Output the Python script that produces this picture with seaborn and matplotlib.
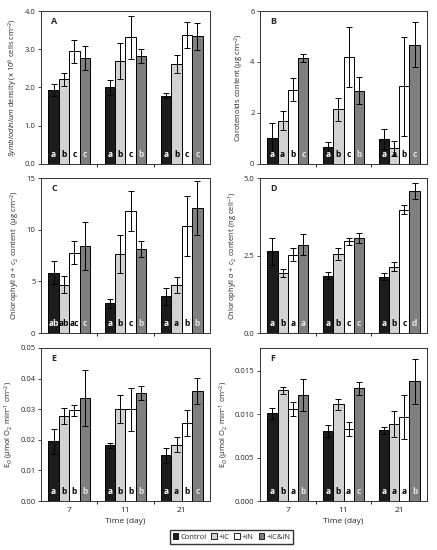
import numpy as np
import pandas as pd
import matplotlib
matplotlib.use("Agg")
import matplotlib.pyplot as plt
import matplotlib.transforms as mtransforms
from matplotlib.patches import Patch
import seaborn as sns

days = ["7", "11", "21"]
treatments = ["Control", "+iC", "+iN", "+iC&iN"]
colors = ["#1c1c1c", "#d2d2d2", "#ffffff", "#7f7f7f"]
letter_colors = ["white", "black", "black", "#e6e6e6"]

# values per treatment, one entry per day (7, 11, 21)
sym_mean = {"Control": [1.93, 2.00, 1.79], "+iC": [2.21, 2.69, 2.61],
            "+iN": [2.95, 3.31, 3.37], "+iC&iN": [2.77, 2.82, 3.34]}
sym_err = {"Control": [0.15, 0.20, 0.07], "+iC": [0.17, 0.48, 0.23],
           "+iN": [0.30, 0.56, 0.33], "+iC&iN": [0.31, 0.18, 0.35]}
sym_let = [["a", "b", "c", "c"], ["a", "b", "c", "b"], ["a", "b", "c", "c"]]

car_mean = {"Control": [1.03, 0.68, 0.98], "+iC": [1.70, 2.14, 0.61],
            "+iN": [2.92, 4.20, 3.04], "+iC&iN": [4.17, 2.88, 4.68]}
car_err = {"Control": [0.56, 0.20, 0.40], "+iC": [0.38, 0.44, 0.28],
           "+iN": [0.44, 1.17, 1.94], "+iC&iN": [0.16, 0.54, 0.89]}
car_let = [["a", "a", "b", "c"], ["a", "b", "c", "b"], ["a", "a", "b", "c"]]

chl_mean = {"Control": [5.84, 2.86, 3.54], "+iC": [4.68, 7.66, 4.64],
            "+iN": [7.79, 11.79, 10.39], "+iC&iN": [8.41, 8.12, 12.10]}
chl_err = {"Control": [1.14, 0.45, 0.84], "+iC": [0.84, 1.82, 0.78],
           "+iN": [1.10, 1.91, 2.90], "+iC&iN": [2.30, 0.74, 2.58]}
chl_let = [["ab", "ab", "ac", "c"], ["a", "b", "c", "b"], ["a", "a", "b", "b"]]

chc_mean = {"Control": [2.63, 1.85, 1.82], "+iC": [1.93, 2.55, 2.14],
            "+iN": [2.53, 2.96, 3.98], "+iC&iN": [2.85, 3.07, 4.59]}
chc_err = {"Control": [0.43, 0.11, 0.10], "+iC": [0.13, 0.18, 0.14],
           "+iN": [0.20, 0.11, 0.15], "+iC&iN": [0.34, 0.17, 0.26]}
chc_let = [["a", "b", "a", "a"], ["a", "b", "c", "c"], ["a", "b", "c", "d"]]

eo_mean = {"Control": [0.0195, 0.0182, 0.0149], "+iC": [0.0278, 0.0302, 0.0184],
           "+iN": [0.0296, 0.0300, 0.0255], "+iC&iN": [0.0336, 0.0354, 0.0360]}
eo_err = {"Control": [0.0040, 0.0008, 0.0024], "+iC": [0.0027, 0.0046, 0.0024],
          "+iN": [0.0018, 0.0070, 0.0043], "+iC&iN": [0.0092, 0.0023, 0.0042]}
eo_let = [["a", "b", "b", "b"], ["a", "b", "b", "b"], ["a", "a", "b", "c"]]

eo2_mean = {"Control": [0.01009, 0.00804, 0.00812], "+iC": [0.01276, 0.01113, 0.00881],
            "+iN": [0.01063, 0.00831, 0.00966], "+iC&iN": [0.01218, 0.01295, 0.01376]}
eo2_err = {"Control": [0.0006, 0.0007, 0.0004], "+iC": [0.0004, 0.00066, 0.0015],
           "+iN": [0.0008, 0.0008, 0.0025], "+iC&iN": [0.0018, 0.0007, 0.0026]}
eo2_let = [["a", "b", "a", "b"], ["a", "b", "a", "c"], ["a", "a", "a", "b"]]

sns.set_style("ticks")
plt.rcParams["font.family"] = ["Open Sans", "DejaVu Sans"]
plt.rcParams["mathtext.fontset"] = "custom"
plt.rcParams["mathtext.rm"] = "Open Sans"
plt.rcParams["mathtext.it"] = "Open Sans:italic"
plt.rcParams["mathtext.bf"] = "Open Sans:bold"

fig = plt.figure(figsize=(4.37, 5.5), dpi=100)
W, H = 437.0, 550.0


def make_ax(l, r, t, b):
    return fig.add_axes([l / W, 1 - b / H, (r - l) / W, (b - t) / H])


panels = [
    (make_ax(41, 210, 11, 164), sym_mean, sym_err, sym_let, "A", (0, 4), [0, 1, 2, 3, 4], "{:.1f}",
     r"$\it{Symbiodinium}$ density (x 10$^6$ cells cm$^{-2}$)"),
    (make_ax(260, 427, 11, 164), car_mean, car_err, car_let, "B", (0, 6), [0, 2, 4, 6], "{:.0f}",
     r"Carotenoids content (μg cm$^{-2}$)"),
    (make_ax(41, 210, 178, 333), chl_mean, chl_err, chl_let, "C", (0, 15), [0, 5, 10, 15], "{:.0f}",
     r"Chlorophyll $\it{a}$ + $\it{c}_2$ content  (μg cm$^{-2}$)"),
    (make_ax(260, 427, 178, 333), chc_mean, chc_err, chc_let, "D", (0, 5), [0, 2.5, 5], "{:.1f}",
     r"Chlorophyll $\it{a}$ + $\it{c}_2$ content (ng cell$^{-1}$)"),
    (make_ax(41, 210, 348, 501), eo_mean, eo_err, eo_let, "E", (0, 0.05),
     [0, 0.01, 0.02, 0.03, 0.04, 0.05], "{:.2f}",
     r"E$_O$ (μmol O$_2$ min$^{-1}$ cm$^{-2}$)"),
    (make_ax(260, 427, 348, 501), eo2_mean, eo2_err, eo2_let, "F", (0, 0.0176),
     [0, 0.005, 0.010, 0.015], "{:.3f}",
     r"E$_O$ (μmol O$_2$ min$^{-1}$ cm$^{-2}$)"),
]

for idx, (ax, means, errs, lets, tag, ylim, yticks, fmt, ylabel) in enumerate(panels):
    rows = []
    for t in treatments:
        for d, m, e in zip(days, means[t], errs[t]):
            rows.append({"Day": d, "Treatment": t, "value": m, "err": e})
    df = pd.DataFrame(rows)
    sns.barplot(data=df, x="Day", y="value", hue="Treatment", order=days,
                hue_order=treatments, palette=colors, edgecolor="black",
                linewidth=0.7, width=0.74, errorbar=None, legend=False,
                saturation=1, ax=ax)
    trans = mtransforms.blended_transform_factory(ax.transData, ax.transAxes)
    bar_groups = list(ax.containers)
    for i, cont in enumerate(bar_groups):
        t = treatments[i]
        for j, bar in enumerate(cont):
            xc = bar.get_x() + bar.get_width() / 2
            ax.errorbar(xc, means[t][j], yerr=errs[t][j], fmt="none", ecolor="black",
                        elinewidth=0.7, capsize=2, capthick=0.7, zorder=5)
            ax.text(xc, 0.03, lets[j][i], transform=trans, ha="center", va="bottom",
                    fontsize=6, fontweight="bold", color=letter_colors[i], zorder=6)
    ax.set_ylim(*ylim)
    ax.set_yticks(yticks)
    ax.set_yticklabels([fmt.format(v) for v in yticks])
    ax.set_xlim(-0.5, 2.5)
    ax.set_xticks([0, 1, 2])
    ax.set_xticks([0.5, 1.5], minor=True)
    ax.tick_params(axis="x", which="major", length=0, labelsize=6, pad=4)
    ax.tick_params(axis="x", which="minor", length=2, width=0.7, direction="out")
    ax.tick_params(axis="y", length=2, width=0.6, labelsize=5.5, pad=2)
    ax.set_ylabel(ylabel, fontsize=5.5, labelpad=3)
    if idx >= 4:
        ax.set_xlabel("Time (day)", fontsize=6, labelpad=3)
    else:
        ax.set_xlabel("")
        ax.set_xticklabels([])
    for s in ax.spines.values():
        s.set_visible(True)
        s.set_linewidth(0.7)
        s.set_color("#333333")
    ax.text(0.06, 0.93, tag, transform=ax.transAxes, fontsize=6.5, fontweight="bold",
            ha="left", va="center")

handles = [Patch(facecolor=c, edgecolor="black", linewidth=0.6) for c in colors]
fig.legend(handles, treatments, loc="center", bbox_to_anchor=(0.53, 1 - 537 / H),
           ncol=4, fontsize=5.5, frameon=True, fancybox=False, edgecolor="black",
           handlelength=0.7, handleheight=0.7, handletextpad=0.3, columnspacing=0.6,
           borderpad=0.4)

fig.savefig("out.png", dpi=100)
